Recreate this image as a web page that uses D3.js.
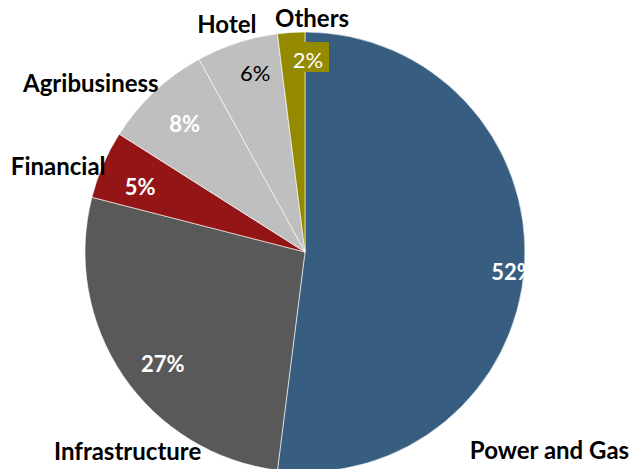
<!DOCTYPE html>
<html>
<head>
<meta charset="utf-8">
<script src="https://cdn.jsdelivr.net/npm/d3@7"></script>
<style>
  body { margin: 0; background: #fff; }
  svg { display: block; font-family: Lato, "Open Sans", sans-serif; }
</style>
</head>
<body>
<svg id="chart"></svg>
<script>
// sectors, clockwise from 12 o'clock
const categories = ["Power and Gas", "Infrastructure", "Financial", "Agribusiness", "Hotel", "Others"];
const shares = [52, 27, 5, 8, 6, 2];
const colours = ["#375d81", "#595959", "#941515", "#bfbfbf", "#bfbfbf", "#948a00"];

var width = 635,
    height = 469,
    cx = 305,
    cy = 252,
    radius = 220;

// label placement: [radius, angle shift in degrees] relative to slice middle
const pctPlace = [[209, 2], [181, -4], [177, -2], [176, 0], [186, 2.5], [192, 4.5]];
const namePlace = [[312, 34.8], [263, -13.4], [263, -3.2], [276, -7.7], [245, -0.6], [239, 5.3]];
const pctStyle = [
    {fill: "#fff", weight: "bold"},
    {fill: "#fff", weight: "bold"},
    {fill: "#fff", weight: "bold"},
    {fill: "#fff", weight: "bold"},
    {fill: "#000", weight: "normal"},
    {fill: "#fff", weight: "normal", box: "#948a00"}
];

const data = categories.map((c, i) => ({name: c, value: shares[i], colour: colours[i]}));

const svg = d3.select("#chart").attr("width", width).attr("height", height);
const g = svg.append("g").attr("transform", "translate(" + [cx, cy] + ")");

const pie = d3.pie().sort(null).value(d => d.value);
const arc = d3.arc().innerRadius(0).outerRadius(radius);
const arcs = pie(data);

g.selectAll("path.slice")
    .data(arcs)
    .enter()
    .append("path")
    .attr("class", "slice")
    .attr("d", arc)
    .attr("fill", d => d.data.colour)
    .attr("stroke", "#fff")
    .attr("stroke-width", 0.6);

function polar(d, place) {
    const a = (d.startAngle + d.endAngle) / 2 + place[1] * Math.PI / 180;
    return [place[0] * Math.sin(a), -place[0] * Math.cos(a)];
}

// box behind the small label
arcs.forEach(function(d, i) {
    const s = pctStyle[i];
    if (!s.box) return;
    const p = polar(d, pctPlace[i]);
    g.append("rect")
        .attr("x", p[0] - 22)
        .attr("y", p[1] - 18)
        .attr("width", 43)
        .attr("height", 30)
        .attr("fill", s.box);
});

g.selectAll("text.pct")
    .data(arcs)
    .enter()
    .append("text")
    .attr("class", "pct")
    .attr("transform", (d, i) => "translate(" + polar(d, pctPlace[i]) + ")")
    .attr("text-anchor", "middle")
    .attr("dy", "0.36em")
    .attr("font-size", 22)
    .attr("font-weight", (d, i) => pctStyle[i].weight)
    .attr("fill", (d, i) => pctStyle[i].fill)
    .text(d => d.data.value + "%");

g.selectAll("text.name")
    .data(arcs)
    .enter()
    .append("text")
    .attr("class", "name")
    .attr("transform", (d, i) => "translate(" + polar(d, namePlace[i]) + ")")
    .attr("text-anchor", "middle")
    .attr("dy", "0.57em")
    .attr("font-size", 24)
    .attr("font-weight", "bold")
    .attr("fill", "#000")
    .text(d => d.data.name);
</script>
</body>
</html>
